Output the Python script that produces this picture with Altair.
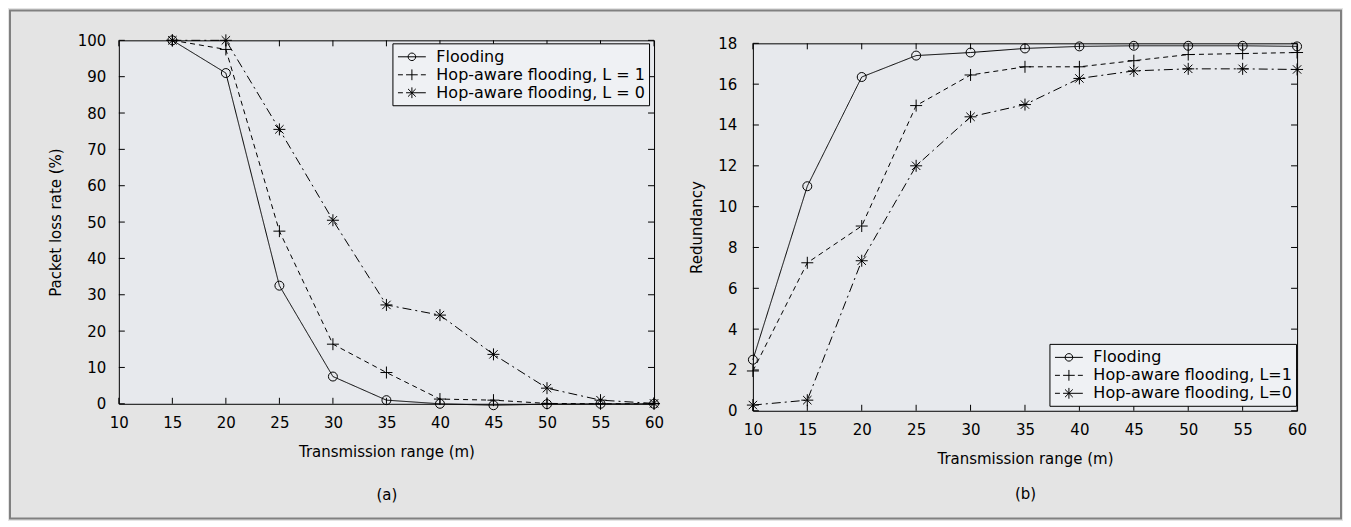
import altair as alt
import pandas as pd

FONT = "DejaVu Sans"

# ---------------- data ----------------
x_ticks = [10, 15, 20, 25, 30, 35, 40, 45, 50, 55, 60]
loss_ticks = [0, 10, 20, 30, 40, 50, 60, 70, 80, 90, 100]
red_ticks = [0, 2, 4, 6, 8, 10, 12, 14, 16, 18]

series_a = ["Flooding", "Hop-aware flooding, L = 1", "Hop-aware flooding, L = 0"]
series_b = ["Flooding", "Hop-aware flooding, L=1", "Hop-aware flooding, L=0"]

range_a = [15, 20, 25, 30, 35, 40, 45, 50, 55, 60]
loss_flooding = [100, 91, 32.5, 7.5, 1.0, 0.0, -0.4, -0.1, 0.0, 0.0]
loss_l1 = [100, 97.5, 47.5, 16.4, 8.6, 1.3, 1.0, 0.1, 0.0, 0.0]
loss_l0 = [100, 100, 75.5, 50.5, 27.2, 24.4, 13.6, 4.3, 1.0, 0.1]

range_b = [10, 15, 20, 25, 30, 35, 40, 45, 50, 55, 60]
red_flooding = [2.5, 11.0, 16.35, 17.4, 17.55, 17.75, 17.85, 17.88, 17.88, 17.88, 17.85]
red_l1 = [1.95, 7.25, 9.05, 14.95, 16.45, 16.85, 16.85, 17.15, 17.45, 17.5, 17.55]
red_l0 = [0.28, 0.52, 7.35, 12.0, 14.4, 15.0, 16.28, 16.65, 16.75, 16.75, 16.72]

# ---------------- styles ----------------
dashes = [[1, 0], [5, 4], [9, 4, 2, 4]]
marker_paths = [
    "M0.75,0A0.75,0.75,0,1,1,-0.75,0A0.75,0.75,0,1,1,0.75,0",
    "M-1,0L1,0M0,-1L0,1",
    "M-1,0L1,0M0,-1L0,1M-0.7,-0.7L0.7,0.7M-0.7,0.7L0.7,-0.7",
]
legend_paths = [
    "M-1.55,0L1.55,0M0.42,0A0.42,0.42,0,1,1,-0.42,0A0.42,0.42,0,1,1,0.42,0",
    "M-1.55,0L-1.0,0M-0.65,0L0.65,0M0,-0.6L0,0.6M1.0,0L1.55,0",
    "M-1.55,0L-1.0,0M-0.65,0L1.55,0M0,-0.6L0,0.6M-0.43,-0.43L0.43,0.43M-0.43,0.43L0.43,-0.43",
]


def long_df(xs, cols, names):
    rows = []
    for name, vals in zip(names, cols):
        for x, v in zip(xs, vals):
            rows.append({"x": x, "v": v, "s": name})
    return pd.DataFrame(rows)


def panel(df, names, yticks, ydom, W, H, ytitle, xtitle, title_lh,
          ylab_pad, ytit_pad, leg_x, leg_y):
    xs = alt.Scale(domain=[10, 60], nice=False, zero=False)
    ys = alt.Scale(domain=ydom, nice=False, zero=False)
    xaxis = alt.Axis(values=x_ticks, labelPadding=12, title=xtitle,
                     titleLineHeight=title_lh, titlePadding=14, labelFlush=False)
    yaxis = alt.Axis(values=yticks, labelPadding=ylab_pad, title=ytitle,
                     titlePadding=ytit_pad, labelFlush=False)
    X = alt.X("x:Q", scale=xs, axis=xaxis)
    Y = alt.Y("v:Q", scale=ys, axis=yaxis)
    base = alt.Chart(df)
    lines = base.mark_line(color="black", strokeWidth=1).encode(
        X, Y,
        strokeDash=alt.StrokeDash("s:N", scale=alt.Scale(domain=names, range=dashes), legend=None),
    )
    pts = base.mark_point(filled=False, color="black", strokeWidth=1, size=144, opacity=1).encode(
        X, Y,
        shape=alt.Shape("s:N", scale=alt.Scale(domain=names, range=marker_paths), legend=None),
    )
    leg = base.transform_filter("false").mark_point(filled=False, color="black").encode(
        X, Y,
        shape=alt.Shape(
            "s:N",
            scale=alt.Scale(domain=names, range=legend_paths),
            legend=alt.Legend(
                title=None, orient="none", legendX=leg_x, legendY=leg_y,
                fillColor="#eff1f4", strokeColor="black", padding=4,
                rowPadding=0, symbolSize=324, symbolStrokeWidth=1,
                symbolStrokeColor="black", symbolFillColor="transparent",
                symbolOpacity=1, symbolOffset=6, labelOffset=15,
                labelFont=FONT, labelFontSize=16, labelColor="black",
                labelLimit=400, cornerRadius=0,
            ),
        ),
    )
    tx = alt.Chart(pd.DataFrame({"t": x_ticks}))
    ty = alt.Chart(pd.DataFrame({"t": yticks}))
    XT = alt.X("t:Q", scale=xs, axis=xaxis)
    YT = alt.Y("t:Q", scale=ys, axis=yaxis)
    bottom = tx.mark_rule(color="black", strokeWidth=1).encode(XT, y=alt.value(H), y2=alt.value(H - 6))
    top = tx.mark_rule(color="black", strokeWidth=1).encode(XT, y=alt.value(0), y2=alt.value(6))
    left = ty.mark_rule(color="black", strokeWidth=1).encode(YT, x=alt.value(0), x2=alt.value(6))
    right = ty.mark_rule(color="black", strokeWidth=1).encode(YT, x=alt.value(W), x2=alt.value(W - 6))
    return [lines, pts, leg, bottom, top, left, right]


W1, H1 = 536, 364
W2, H2 = 545, 368

df_a = long_df(range_a, [loss_flooding, loss_l1, loss_l0], series_a)
df_b = long_df(range_b, [red_flooding, red_l1, red_l0], series_b)

frame = alt.Chart(pd.DataFrame({"a": [0]})).mark_rect(
    fill="transparent", stroke="#808080", strokeWidth=2
).encode(x=alt.value(-109), x2=alt.value(1224), y=alt.value(-30), y2=alt.value(479))

layers_a = panel(df_a, series_a, loss_ticks, [0, 100], W1, H1,
                 "Packet loss rate (%)", ["Transmission range (m)", "(a)"], 43,
                 13, 14, 274, 3)
layers_b = panel(df_b, series_b, red_ticks, [0, 18], W2, H2,
                 "Redundancy", ["Transmission range (m)", "(b)"], 35,
                 16, 13, 297, 301)

chart_a = alt.layer(frame, *layers_a).resolve_scale(shape="independent").properties(width=W1, height=H1)
chart_b = alt.layer(*layers_b).resolve_scale(shape="independent").properties(width=W2, height=H2)

spacer = alt.Chart(pd.DataFrame({"a": [0]})).mark_point(opacity=0).encode(
    x=alt.value(0), y=alt.value(0)
).properties(width=W2, height=3, view=alt.ViewBackground(fill="transparent", stroke="transparent"))

right_col = alt.vconcat(spacer, chart_b, spacing=0, bounds="flush").resolve_scale(
    strokeDash="independent", shape="independent"
)

chart = alt.hconcat(chart_a, right_col, spacing=99, bounds="flush").resolve_scale(
    strokeDash="independent", shape="independent"
).properties(
    padding=0
).configure(background="#e4e4e4").configure_view(
    fill="#e7e9ed", stroke="black", strokeWidth=1
).configure_axis(
    labelFont=FONT, labelFontSize=15, labelColor="black",
    titleFont=FONT, titleFontSize=15, titleFontWeight="normal", titleColor="black",
    domain=False, ticks=False, tickSize=0, grid=False,
)

chart.save("out.html", embed_options={"renderer": "svg", "actions": False})
